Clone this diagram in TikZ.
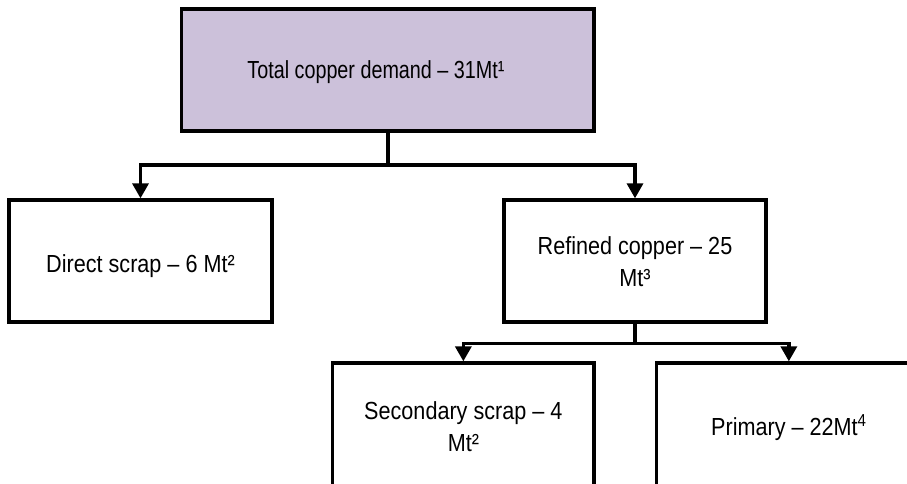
\documentclass[tikz,border=0pt]{standalone}
\usepackage{fontspec}
\setmainfont{Liberation Sans}[FakeStretch=0.875]
\newfontfamily\topfont{Liberation Sans}[FakeStretch=0.8]
\usetikzlibrary{arrows.meta}
\definecolor{lav}{RGB}{204,193,218}
\tikzset{
  box/.style={draw=black, line width=3.3pt, fill=white, inner sep=0pt},
  txt/.style={font=\fontsize{24.7}{32}\selectfont, align=center, inner sep=0pt, text=black},
  conn/.style={line width=3.3pt, draw=black},
  arr/.style={conn, -{Triangle[width=16pt,length=15pt]}}
}
\begin{document}
\begin{tikzpicture}[x=1pt,y=-1pt]
\useasboundingbox (0,0) rectangle (907,484);
\clip (0,0) rectangle (907,484);
\node[box, fill=lav, minimum width=412.3pt, minimum height=122pt,
  label={[txt,name=topT,xshift=-11.9pt,yshift=-1.9pt]center:{\topfont Total copper demand – 31Mt¹}}] (top) at (387.85,70) {};
\node[box, minimum width=263pt, minimum height=122pt,
  label={[txt,name=directT,yshift=-5.5pt]center:Direct scrap – 6 Mt²}] (direct) at (140.5,261) {};
\node[box, minimum width=262pt, minimum height=122pt,
  label={[txt,name=refinedT,yshift=-0.5pt]center:Refined copper – 25\\Mt³}] (refined) at (635,261) {};
\node[box, minimum width=261.3pt, minimum height=126pt,
  label={[txt,name=secT,yshift=-0.5pt]center:Secondary scrap – 4\\Mt²}] (secondary) at (463.35,426) {};
\node[box, minimum width=264.3pt, minimum height=126pt,
  label={[txt,name=primT,yshift=-1.75pt]center:Primary – 22Mt\textsuperscript{4}}] (primary) at (788.85,426) {};
\coordinate (j1) at (387.85,165);
\coordinate (j2) at (635,343.3);
\draw[conn] (top.south) -- (j1);
\draw[arr] (j1) -| (direct.north);
\draw[arr] (j1) -| (refined.north);
\draw[conn] (refined.south) -- (j2);
\draw[arr] (j2) -| (secondary.north);
\draw[arr] (j2) -| (primary.north);
\end{tikzpicture}
\end{document}
